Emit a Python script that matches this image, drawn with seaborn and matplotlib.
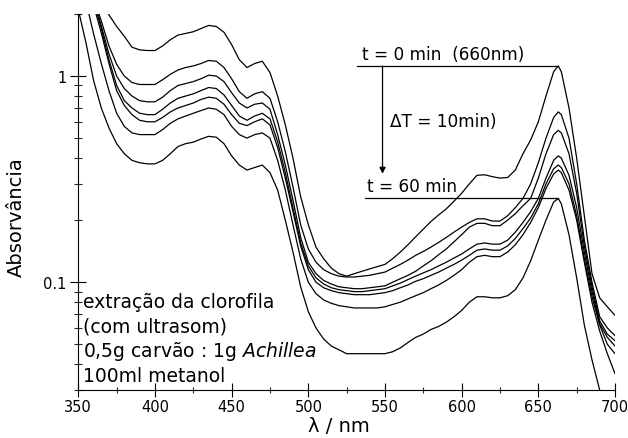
import numpy as np
import pandas as pd
import matplotlib
matplotlib.use("Agg")
import matplotlib.pyplot as plt
import seaborn as sns
from matplotlib.ticker import LogLocator, FixedLocator, NullFormatter, FixedFormatter, MultipleLocator

# ---------------- data ----------------
wavelength = [350, 355, 360, 365, 370, 375, 380, 385, 390, 395,
              400, 405, 410, 415, 420, 425, 430, 435, 440, 445,
              450, 455, 460, 465, 470, 475, 480, 485, 490, 495,
              500, 505, 510, 515, 520, 525, 530, 535, 540, 545,
              550, 555, 560, 565, 570, 575, 580, 585, 590, 595,
              600, 605, 610, 615, 620, 625, 630, 635, 640, 645,
              650, 655, 660, 663, 665, 670, 675, 680, 685, 690,
              695, 700]

abs_t0 = [4.0, 3.4, 2.8, 2.35, 1.98, 1.74, 1.56, 1.38, 1.34, 1.33,
          1.33, 1.40, 1.50, 1.58, 1.61, 1.64, 1.70, 1.76, 1.74, 1.63,
          1.42, 1.20, 1.10, 1.15, 1.18, 1.04, 0.80, 0.58, 0.40, 0.26,
          0.19, 0.148, 0.13, 0.117, 0.11, 0.107, 0.110, 0.113, 0.116, 0.119,
          0.122, 0.130, 0.140, 0.152, 0.166, 0.181, 0.197, 0.212, 0.227, 0.247,
          0.270, 0.300, 0.330, 0.332, 0.325, 0.320, 0.322, 0.350, 0.420, 0.490,
          0.600, 0.800, 1.050, 1.120, 1.050, 0.700, 0.400, 0.210, 0.110, 0.084,
          0.076, 0.069]

abs_t10 = [4.0, 3.0, 2.4, 1.85, 1.40, 1.14, 1.00, 0.93, 0.91, 0.91,
           0.91, 0.96, 1.02, 1.07, 1.10, 1.12, 1.15, 1.19, 1.18, 1.10,
           0.97, 0.84, 0.78, 0.82, 0.84, 0.78, 0.60, 0.43, 0.29, 0.19,
           0.145, 0.125, 0.115, 0.110, 0.107, 0.106, 0.106, 0.107, 0.108, 0.110,
           0.112, 0.117, 0.122, 0.128, 0.135, 0.141, 0.148, 0.156, 0.165, 0.175,
           0.185, 0.195, 0.203, 0.203, 0.198, 0.198, 0.210, 0.230, 0.255, 0.300,
           0.380, 0.500, 0.630, 0.670, 0.650, 0.500, 0.300, 0.160, 0.100, 0.068,
           0.060, 0.055]

abs_t20 = [4.0, 3.0, 2.35, 1.75, 1.28, 1.00, 0.87, 0.80, 0.76, 0.75,
           0.75, 0.79, 0.85, 0.90, 0.92, 0.94, 0.97, 1.01, 1.00, 0.94,
           0.83, 0.74, 0.70, 0.73, 0.74, 0.69, 0.52, 0.37, 0.25, 0.165,
           0.125, 0.110, 0.102, 0.098, 0.095, 0.094, 0.093, 0.093, 0.094, 0.095,
           0.096, 0.100, 0.104, 0.108, 0.113, 0.120, 0.127, 0.136, 0.145, 0.157,
           0.170, 0.185, 0.193, 0.193, 0.188, 0.188, 0.200, 0.215, 0.235, 0.255,
           0.320, 0.420, 0.520, 0.545, 0.530, 0.420, 0.270, 0.150, 0.095, 0.065,
           0.056, 0.052]

abs_t30 = [3.9, 2.9, 2.35, 1.70, 1.20, 0.90, 0.76, 0.70, 0.66, 0.65,
           0.65, 0.69, 0.74, 0.78, 0.80, 0.82, 0.85, 0.88, 0.87, 0.81,
           0.72, 0.64, 0.61, 0.64, 0.66, 0.62, 0.48, 0.34, 0.23, 0.155,
           0.120, 0.105, 0.098, 0.094, 0.092, 0.091, 0.090, 0.090, 0.091, 0.092,
           0.093, 0.096, 0.099, 0.103, 0.107, 0.111, 0.115, 0.120, 0.125, 0.131,
           0.137, 0.145, 0.153, 0.155, 0.153, 0.153, 0.160, 0.175, 0.195, 0.220,
           0.255, 0.320, 0.390, 0.410, 0.400, 0.330, 0.230, 0.140, 0.090, 0.063,
           0.054, 0.049]

abs_t40 = [3.7, 2.8, 2.2, 1.62, 1.15, 0.85, 0.72, 0.65, 0.61, 0.60,
           0.60, 0.63, 0.67, 0.70, 0.72, 0.74, 0.77, 0.79, 0.78, 0.73,
           0.65, 0.59, 0.575, 0.60, 0.62, 0.58, 0.45, 0.32, 0.22, 0.150,
           0.115, 0.100, 0.094, 0.091, 0.089, 0.088, 0.087, 0.087, 0.087, 0.088,
           0.089, 0.091, 0.094, 0.097, 0.101, 0.104, 0.108, 0.112, 0.117, 0.122,
           0.128, 0.135, 0.143, 0.145, 0.143, 0.143, 0.150, 0.163, 0.182, 0.205,
           0.240, 0.300, 0.355, 0.370, 0.360, 0.300, 0.210, 0.130, 0.085, 0.062,
           0.050, 0.045]

abs_t50 = [3.0, 2.3, 1.60, 1.15, 0.85, 0.66, 0.57, 0.53, 0.52, 0.52,
           0.52, 0.55, 0.59, 0.62, 0.64, 0.66, 0.68, 0.70, 0.69, 0.65,
           0.57, 0.52, 0.50, 0.52, 0.53, 0.50, 0.39, 0.28, 0.19, 0.130,
           0.100, 0.088, 0.082, 0.079, 0.077, 0.076, 0.075, 0.075, 0.075, 0.075,
           0.076, 0.078, 0.080, 0.083, 0.086, 0.089, 0.093, 0.097, 0.102, 0.108,
           0.115, 0.125, 0.133, 0.135, 0.133, 0.133, 0.140, 0.152, 0.170, 0.195,
           0.230, 0.285, 0.335, 0.350, 0.340, 0.280, 0.200, 0.125, 0.080, 0.058,
           0.045, 0.036]

abs_t60 = [2.1, 1.45, 0.95, 0.70, 0.56, 0.47, 0.42, 0.39, 0.38, 0.375,
           0.375, 0.39, 0.42, 0.455, 0.47, 0.478, 0.495, 0.51, 0.505, 0.47,
           0.41, 0.37, 0.35, 0.36, 0.37, 0.34, 0.28, 0.20, 0.14, 0.095,
           0.072, 0.060, 0.053, 0.049, 0.047, 0.045, 0.045, 0.045, 0.045, 0.045,
           0.045, 0.046, 0.048, 0.051, 0.054, 0.056, 0.059, 0.061, 0.064, 0.068,
           0.073, 0.080, 0.085, 0.085, 0.084, 0.084, 0.086, 0.092, 0.105, 0.127,
           0.160, 0.200, 0.245, 0.255, 0.240, 0.170, 0.105, 0.062, 0.042, 0.030,
           0.025, 0.021]

times = [0, 10, 20, 30, 40, 50, 60]
series = [abs_t0, abs_t10, abs_t20, abs_t30, abs_t40, abs_t50, abs_t60]

x_ticks = [350, 400, 450, 500, 550, 600, 650, 700]
y_ticks = [0.1, 1]
y_tick_labels = ["0.1", "1"]

# ---------------- figure ----------------
sns.set_style("ticks")
plt.rcParams["font.family"] = ["DejaVu Sans"]
plt.rcParams["mathtext.fontset"] = "dejavusans"
plt.rcParams["text.color"] = "black"
plt.rcParams["axes.labelcolor"] = "black"

W, H = 628, 439
fig = plt.figure(figsize=(W / 100, H / 100), dpi=100)
ax = fig.add_axes([78.3 / W, 1 - 391 / H, 536.7 / W, 376 / H])
ax.set_yscale("log")

df = pd.concat(
    [pd.DataFrame({"wl": wavelength, "A": s, "t": t}) for t, s in zip(times, series)],
    ignore_index=True,
)
sns.lineplot(data=df, x="wl", y="A", units="t", estimator=None, color="black",
             lw=0.9, ax=ax, legend=False, sort=False)

ax.set_xlim(350, 700)
ax.set_ylim(0.03, 2.0)

ax.xaxis.set_major_locator(FixedLocator(x_ticks))
ax.xaxis.set_minor_locator(MultipleLocator(25))
ax.yaxis.set_major_locator(FixedLocator(y_ticks))
ax.yaxis.set_major_formatter(FixedFormatter(y_tick_labels))
ax.yaxis.set_minor_locator(LogLocator(base=10, subs=np.arange(2, 10)))
ax.yaxis.set_minor_formatter(NullFormatter())

for s in ["top", "right"]:
    ax.spines[s].set_visible(False)
for s in ["left", "bottom"]:
    ax.spines[s].set_linewidth(0.8)
    ax.spines[s].set_color("black")

ax.tick_params(axis="x", which="major", direction="inout", length=9.5, width=0.8,
               labelsize=10.5, pad=2, colors="black")
ax.tick_params(axis="x", which="minor", direction="inout", length=5, width=0.8)
ax.tick_params(axis="y", which="major", direction="inout", length=11, width=0.8,
               labelsize=10.5, pad=3, colors="black")
ax.tick_params(axis="y", which="minor", direction="inout", length=6, width=0.8)

ax.set_xlabel("λ / nm", fontsize=14)
ax.set_ylabel("Absorvância", fontsize=14)
ax.xaxis.set_label_coords(0.485, -0.068)
ax.yaxis.set_label_coords(-0.098, 0.463)

# ---------------- annotations ----------------
wl_arr = np.array(wavelength)
red = wl_arr >= 600
i_peak = np.where(red)[0][np.argmax(np.array(abs_t0)[red])]
peak_wl = wavelength[i_peak]
peak_t0 = abs_t0[i_peak]
peak_t60 = abs_t60[i_peak]

top_line_start = 531.5
bottom_line_start = 537.0
arrow_x = 548.4
arrow_end = 0.336

ax.plot([top_line_start, peak_wl], [peak_t0, peak_t0], color="black", lw=0.9)
ax.plot([bottom_line_start, peak_wl], [peak_t60, peak_t60], color="black", lw=0.9)
ax.annotate("", xy=(arrow_x, arrow_end), xytext=(arrow_x, peak_t0),
            arrowprops=dict(arrowstyle="-|>", color="black", lw=0.9,
                            mutation_scale=9, shrinkA=0, shrinkB=0))

ax.text(0.528, 0.880, "t = 0 min  (660nm)", transform=ax.transAxes,
        fontsize=12.2, va="baseline", ha="left")
ax.text(0.5806, 0.703, "ΔT = 10min)", transform=ax.transAxes,
        fontsize=12.2, va="baseline", ha="left")
ax.text(0.537, 0.530, "t = 60 min", transform=ax.transAxes,
        fontsize=12.2, va="baseline", ha="left")

info_lines = ["extração da clorofila", "(com ultrasom)",
              "0,5g carvão : 1g $\\mathit{Achillea}$", "100ml metanol"]
info_y = [0.220, 0.155, 0.0912, 0.0247]
for txt, yy in zip(info_lines, info_y):
    ax.text(0.0088, yy, txt, transform=ax.transAxes, fontsize=13.5,
            va="baseline", ha="left")

fig.savefig("out.png", dpi=100)
